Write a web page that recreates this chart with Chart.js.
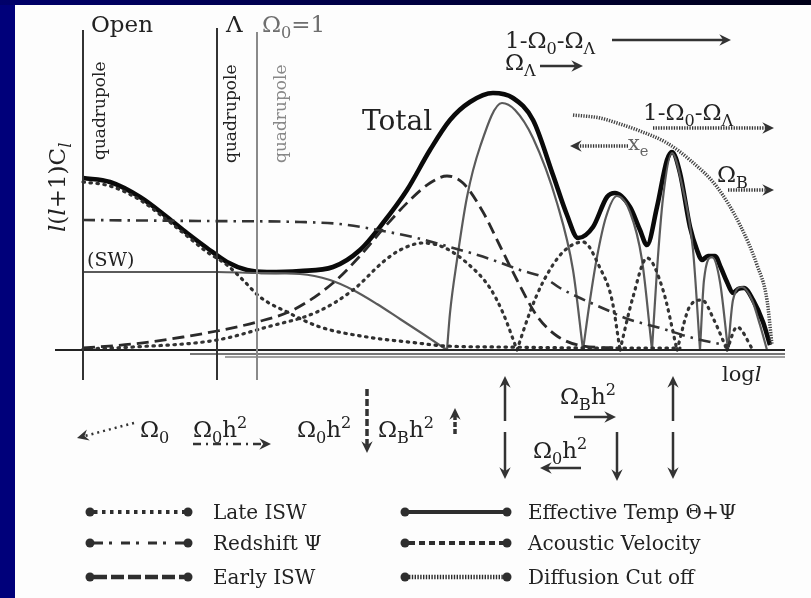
<!DOCTYPE html>
<html>
<head>
<meta charset="utf-8">
<script src="https://cdn.jsdelivr.net/npm/chart.js@4/dist/chart.umd.min.js"></script>
<style>
  html, body { margin: 0; padding: 0; }
  body { width: 811px; height: 598px; background: #00007a; position: relative; overflow: hidden; }
  #topband { position: absolute; left: 0; top: 0; width: 811px; height: 5px; background: linear-gradient(to right, #00006a, #000018); }
  #sheet { position: absolute; left: 15px; top: 5px; right: 0; bottom: 0; background: #fdfdfd; }
  canvas { position: absolute; left: 0; top: 0; }
</style>
</head>
<body>
<div id="topband"></div>
<div id="sheet"></div>
<canvas id="spectrum" width="811" height="598"></canvas>
<script>
// x: log l (arbitrary units, 0 = open-model quadrupole); y: l(l+1)C_l (arbitrary units)

// Total
const totalL = [0, 2.7, 5.7, 8.4, 10.4, 12.4, 14.4, 16.4, 18.4, 21.7, 25, 27.7, 30, 32.4, 34.7, 36.7, 38.7, 41, 43, 45, 47, 48.4, 49.5, 51, 52.4, 53.2, 54.7, 55.7, 56.4, 57.4, 58.4, 58.9, 59.7, 60.7, 61.4, 61.9, 62.5, 63.2, 63.8, 64.4, 65, 65.5, 66.1, 67, 68, 68.7];
const totalP = [68.8, 67.2, 61.2, 53.2, 46.8, 40.8, 35.2, 32, 31.2, 31.6, 33.2, 40, 50.8, 64, 80, 92, 99.2, 102.8, 100.8, 92, 70, 54, 44.8, 49.2, 61.2, 62.8, 57.2, 48, 42, 57.2, 76, 79.2, 70.8, 49.2, 40, 36, 37.6, 37.6, 32.8, 27.2, 22.8, 24.4, 24.8, 20, 11.2, 2];

// Effective temperature Θ+Ψ (Sachs-Wolfe plateau, then acoustic peaks)
const effL = [0, 6.7, 13.4, 17.4, 21.7, 24.7, 27, 29.4, 31.7, 34, 36.4, 36.7, 37.4, 38.4, 39.7, 41.9, 43.2, 45, 47.4, 49, 50, 50.7, 51.4, 52.3, 53.4, 54.7, 55.9, 56.9, 57.4, 58, 58.9, 59.9, 61, 61.7, 62.1, 62.9, 63.7, 64.5, 65, 65.9, 66.9, 67.7, 68.4];
const effP = [31.2, 31.2, 31.2, 30.8, 30.4, 28, 24, 18.4, 12.4, 6.4, 0, 14.8, 36, 61.2, 81.2, 98.8, 96, 84.8, 58.8, 32, 0, 20, 37.2, 53.2, 61.6, 55.2, 36, 0, 32, 60.8, 78.8, 66, 40, 0, 28, 37.2, 27.2, 0, 20, 25.2, 20, 10, 0];

// Late ISW
const lateL = [0, 2.7, 5.7, 8.4, 10.4, 12.4, 14.4, 16, 17.7, 20.4, 23.7, 28.4, 33.4, 36.2, 41.7, 51.7, 59.7];
const lateP = [67.2, 65.6, 60, 52, 45.6, 39.2, 34, 28, 21.2, 15.2, 9.2, 5.2, 2.8, 1.6, 1.2, 0.8, 0.8];

// Redshift Ψ
const redL = [0, 11.7, 21.7, 25.7, 30, 33.4, 36.7, 40.7, 43.7, 46.2, 47.7, 49.7, 52.4, 54.2, 57.7, 61, 64.7];
const redP = [52, 51.6, 51.2, 50.4, 47.6, 44.8, 41.2, 36.4, 32, 28.8, 24.8, 20.8, 16, 12.8, 8.8, 4.8, 1.6];

// Early ISW
const earlyL = [0, 5, 10, 13.4, 17.4, 21, 25, 27.7, 30, 32.7, 34.7, 36.4, 38, 40, 41.7, 43.4, 45.4, 47.4, 50, 53.7];
const earlyP = [0.8, 2.4, 5.2, 7.6, 11.2, 16, 26.8, 37.6, 48.4, 60, 66.8, 69.6, 66.8, 55.2, 41.6, 28, 13.6, 5.6, 1.6, 0.8];

// Acoustic velocity
const velL = [0, 5, 13.4, 18.4, 23.4, 27, 30, 31.7, 34, 36, 38.4, 40.7, 42, 43.4, 44.7, 46, 48, 50, 51.7, 52.9, 53.7, 55, 56.4, 58, 59.4, 60.7, 61.9, 63.1, 64.4, 65.4, 67];
const velP = [0.4, 1.2, 4, 9.2, 15.2, 24, 35.2, 40, 42.8, 41.2, 34.8, 24.8, 14.8, 0, 15.2, 27.2, 39.2, 43.2, 32.8, 20, 0, 21.2, 36.8, 24, 0, 17.6, 20, 12, 0, 9.2, 0];

// Diffusion cut off envelope
const difL = [49, 51.7, 53.4, 55.7, 58.4, 60.7, 63.4, 65.7, 67.4, 68.4, 68.9];
const difP = [94, 92.8, 90.8, 87.6, 82.8, 76, 65.2, 50, 34, 20, 2];

// quadrupole positions: open, Λ, Ω0=1
const quadL = [0, 13.4, 17.4];
const quadTop = [128, 128.8, 127.2];
const quadBottom = -12;

// log l axis and the shaded rule beneath it
const ruleFrom = [-2.8, 10.7, 14.2];
const ruleLevel = [0, -1.6, -2.8];
const ruleTo = 70.2;

const SERIF = '"DejaVu Serif", "Liberation Serif", serif';
const INK = '#222';

// zero crossings of the oscillating parts are cusps, so break the spline there
function pts(xs, ys, cusps) {
  const out = [];
  xs.forEach((x, i) => {
    out.push({ x: x, y: ys[i] });
    if (cusps && ys[i] === 0 && i > 0 && i < xs.length - 1) {
      out.push({ x: x, y: null });
      out.push({ x: x, y: 0 });
    }
  });
  return out;
}

function curve(data, color, width, dash, cap) {
  return {
    data: data, borderColor: color, borderWidth: width, borderDash: dash || [],
    borderCapStyle: cap || 'butt', pointRadius: 0, fill: false,
    cubicInterpolationMode: 'monotone', spanGaps: false
  };
}

function straight(data, color, width) {
  return { data: data, borderColor: color, borderWidth: width, pointRadius: 0, fill: false, tension: 0 };
}

const datasets = [];
quadL.forEach((x, i) => {
  datasets.push(straight([{ x: x, y: quadBottom }, { x: x, y: quadTop[i] }], i === 2 ? '#8a8a8a' : '#333', 2));
});
ruleFrom.forEach((x, i) => {
  datasets.push(straight([{ x: x, y: ruleLevel[i] }, { x: ruleTo, y: ruleLevel[i] }], ['#222', '#777', '#a0a0a0'][i], 2));
});
datasets.push(curve(pts(lateL, lateP), '#2e2e2e', 3.2, [1.5, 5.5], 'round'));
datasets.push(curve(pts(redL, redP), '#333', 2.6, [12, 6, 2.5, 6]));
datasets.push(curve(pts(earlyL, earlyP), '#2a2a2a', 2.8, [12, 6]));
datasets.push(curve(pts(velL, velP, true), '#333', 3.2, [1.5, 5.5], 'round'));
datasets.push(curve(pts(difL, difP), '#444', 3.5, [1.3, 1.3]));
datasets.push(curve(pts(effL, effP, true), '#5a5a5a', 2.2));
datasets.push(curve(pts(totalL, totalP), '#0a0a0a', 4.6));

function rich(ctx, x, y, parts, size, color) {
  ctx.fillStyle = color || INK;
  ctx.textAlign = 'left';
  ctx.textBaseline = 'alphabetic';
  let cx = x;
  parts.forEach(p => {
    const t = p[0], k = p[1] || '';
    const small = k.indexOf('sub') >= 0 || k === 'sup';
    ctx.font = (k.charAt(0) === 'i' ? 'italic ' : '') + (small ? size * 0.7 : size) + 'px ' + SERIF;
    const dy = k.indexOf('sub') >= 0 ? size * 0.28 : (k === 'sup' ? -size * 0.38 : 0);
    ctx.fillText(t, cx, y + dy);
    cx += ctx.measureText(t).width;
  });
  return cx;
}

function upright(ctx, x, y, parts, size, color) {
  ctx.save();
  ctx.translate(x, y);
  ctx.rotate(-Math.PI / 2);
  rich(ctx, 0, 0, parts, size, color);
  ctx.restore();
}

function arrow(ctx, x1, y1, x2, y2, dash, width) {
  const head = 13;
  const a = Math.atan2(y2 - y1, x2 - x1);
  const c = Math.cos(a), s = Math.sin(a);
  ctx.save();
  ctx.strokeStyle = ctx.fillStyle = '#333';
  ctx.lineWidth = width || 2.5;
  ctx.setLineDash(dash || []);
  ctx.beginPath();
  ctx.moveTo(x1, y1);
  ctx.lineTo(x2 - c * head * 0.6, y2 - s * head * 0.6);
  ctx.stroke();
  ctx.setLineDash([]);
  ctx.beginPath();
  ctx.moveTo(x2, y2);
  ctx.lineTo(x2 - head * Math.cos(a - 0.45), y2 - head * Math.sin(a - 0.45));
  ctx.lineTo(x2 - c * head * 0.6, y2 - s * head * 0.6);
  ctx.lineTo(x2 - head * Math.cos(a + 0.45), y2 - head * Math.sin(a + 0.45));
  ctx.closePath();
  ctx.fill();
  ctx.restore();
}

// legend: name, column, row, dash, width
const legendRows = [
  ['Late ISW', 0, 0, [3.5, 4.5], 4],
  ['Redshift \u03A8', 0, 1, [9, 6, 3, 9], 3.2],
  ['Early ISW', 0, 2, [13, 4], 4.5],
  ['Effective Temp \u0398+\u03A8', 1, 0, [], 4],
  ['Acoustic Velocity', 1, 1, [6, 4], 4],
  ['Diffusion Cut off', 1, 2, [1.4, 1.4], 4.5]
];

const notes = {
  id: 'notes',
  afterDraw(chart) {
    const ctx = chart.ctx;
    ctx.save();
    // model labels over the quadrupole lines
    rich(ctx, 91, 32, [['Open']], 23);
    rich(ctx, 226, 32, [['\u039B']], 23);
    rich(ctx, 262, 32, [['\u03A9'], ['0', 'sub'], ['=1']], 23, '#6e6e6e');
    upright(ctx, 105, 160, [['quadrupole']], 17);
    upright(ctx, 236, 163, [['quadrupole']], 17);
    upright(ctx, 286, 163, [['quadrupole']], 17, '#888');
    upright(ctx, 65, 232, [['l', 'i'], ['('], ['l', 'i'], ['+1)C'], ['l', 'isub']], 23);
    rich(ctx, 87, 266, [['(SW)']], 19);
    rich(ctx, 362, 130, [['Total']], 28);
    rich(ctx, 722, 381, [['log'], ['l', 'i']], 21);

    // upper right parameter trends
    rich(ctx, 505, 48, [['1-\u03A9'], ['0', 'sub'], ['-\u03A9'], ['\u039B', 'sub']], 23);
    arrow(ctx, 612, 40, 731, 40, [], 2.5);
    rich(ctx, 505, 70, [['\u03A9'], ['\u039B', 'sub']], 23);
    arrow(ctx, 540, 66, 583, 66, [], 2.5);
    rich(ctx, 643, 120, [['1-\u03A9'], ['0', 'sub'], ['-\u03A9'], ['\u039B', 'sub']], 23);
    arrow(ctx, 653, 128, 774, 128, [1.3, 1.3], 3.5);
    arrow(ctx, 628, 146, 570, 146, [1.3, 1.3], 3.5);
    rich(ctx, 628, 150, [['x'], ['e', 'sub']], 21, '#666');
    rich(ctx, 717, 182, [['\u03A9'], ['B', 'sub']], 23);
    arrow(ctx, 728, 190, 774, 190, [1.3, 1.3], 3.5);

    // lower parameter trends
    arrow(ctx, 134, 423, 77, 438, [2, 4], 2.5);
    rich(ctx, 140, 437, [['\u03A9'], ['0', 'sub']], 23);
    rich(ctx, 193, 437, [['\u03A9'], ['0', 'sub'], ['h'], ['2', 'sup']], 23);
    arrow(ctx, 193, 444, 271, 444, [8, 5, 2, 5], 2.5);
    rich(ctx, 297, 437, [['\u03A9'], ['0', 'sub'], ['h'], ['2', 'sup']], 23);
    arrow(ctx, 367, 389, 367, 453, [7, 3], 3.5);
    rich(ctx, 378, 437, [['\u03A9'], ['B', 'sub'], ['h'], ['2', 'sup']], 23);
    arrow(ctx, 455, 434, 455, 408, [5, 2], 3.5);
    [505, 673].forEach(x => {
      arrow(ctx, x, 421, x, 376, [], 2.5);
      arrow(ctx, x, 432, x, 479, [], 2.5);
    });
    rich(ctx, 560, 404, [['\u03A9'], ['B', 'sub'], ['h'], ['2', 'sup']], 23);
    arrow(ctx, 574, 417, 616, 417, [], 2.5);
    arrow(ctx, 617, 432, 617, 481, [], 2.5);
    rich(ctx, 533, 458, [['\u03A9'], ['0', 'sub'], ['h'], ['2', 'sup']], 23);
    arrow(ctx, 581, 468, 540, 468, [], 2.5);

    // legend
    const colX = [[90, 188, 213], [405, 507, 528]];
    const rowY = [512, 543, 577];
    legendRows.forEach(r => {
      const [x0, x1, tx] = colX[r[1]];
      const y = rowY[r[2]];
      ctx.strokeStyle = ctx.fillStyle = '#2e2e2e';
      ctx.lineWidth = r[4];
      ctx.setLineDash(r[3]);
      ctx.beginPath();
      ctx.moveTo(x0 + 4, y);
      ctx.lineTo(x1 - 4, y);
      ctx.stroke();
      ctx.setLineDash([]);
      [x0, x1].forEach(x => {
        ctx.beginPath();
        ctx.arc(x, y, 4.5, 0, Math.PI * 2);
        ctx.fill();
      });
      rich(ctx, tx, y + 7, [[r[0]]], 20);
    });
    ctx.restore();
  }
};

new Chart(document.getElementById('spectrum'), {
  type: 'line',
  data: { datasets: datasets },
  options: {
    responsive: false,
    animation: false,
    devicePixelRatio: 1,
    layout: { padding: 0 },
    scales: {
      x: { type: 'linear', min: -8.3, max: 72.8, display: false },
      y: { type: 'linear', min: -99.2, max: 140, display: false }
    },
    plugins: { legend: { display: false }, tooltip: { enabled: false } }
  },
  plugins: [notes]
});
</script>
</body>
</html>
